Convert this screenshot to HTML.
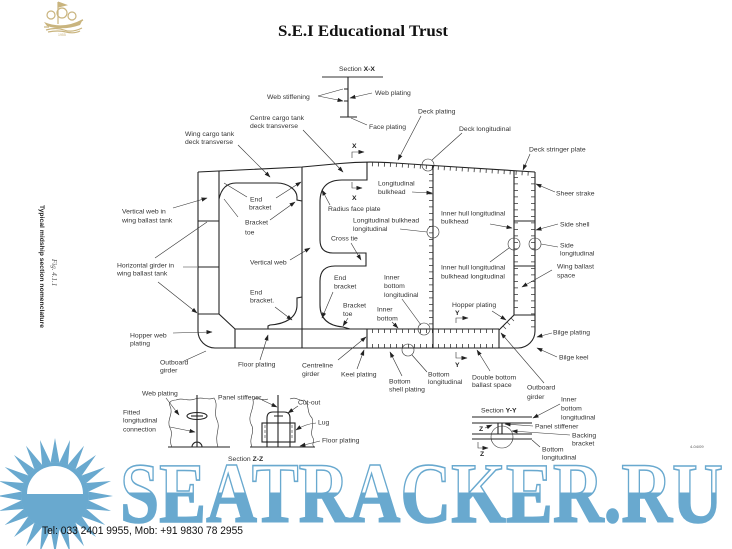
<!DOCTYPE html>
<html><head><meta charset="utf-8"><style>
html,body{margin:0;padding:0;background:#fff;}
svg{display:block;}
.t{font-family:"Liberation Sans",sans-serif;font-size:6.8px;fill:#333;}
.b{font-weight:bold;fill:#222;}
.h{fill:none;stroke:#222;stroke-width:1.1;}
.l{fill:none;stroke:#333;stroke-width:0.6;}
.la{fill:none;stroke:#333;stroke-width:0.6;marker-end:url(#a);}
.tk{fill:none;stroke:#333;stroke-width:4;stroke-dasharray:0.8 5.7;}
</style></head><body>
<svg width="732" height="549" viewBox="0 0 732 549" xmlns="http://www.w3.org/2000/svg">
<defs>
<marker id="a" markerWidth="6" markerHeight="5" refX="5.5" refY="2.5" orient="auto" markerUnits="userSpaceOnUse"><path d="M0,0.4 L6,2.5 L0,4.6z" fill="#222"/></marker>
<linearGradient id="wg" x1="0" y1="460" x2="0" y2="525" gradientUnits="userSpaceOnUse"><stop offset="0.5" stop-color="#ffffff"/><stop offset="0.5" stop-color="#69a9cf"/></linearGradient>
<polygon id="ray" points="88.7,491.6 113,496 88.7,500.4" fill="#69a9cf"/>
</defs>
<rect width="732" height="549" fill="#fff"/>

<!-- logo -->
<g fill="none" stroke="#c9b47e" stroke-width="1.2">
<path d="M58,2 L58,24"/><path d="M58,2 L66,5 L58,7" fill="#c9b47e"/>
<circle cx="51" cy="15" r="4"/><circle cx="62" cy="13" r="5"/><circle cx="72" cy="16" r="4"/>
<path d="M44,27 L49,27"/><path d="M76,24 L83,20"/>
<path d="M46,30 Q56,27 64,30 T82,28"/><path d="M48,32 Q58,30 66,32 T80,31"/>
</g>
<path d="M44,22 Q63,30 83,19 L80,25 Q63,31 47,26 Z" fill="#c9b47e"/>
<text x="58" y="36" font-family="Liberation Sans" font-size="3.5" fill="#c9b47e">1955</text>

<!-- title -->
<text x="278" y="36" font-family="Liberation Serif,serif" font-weight="bold" font-size="16" textLength="170" lengthAdjust="spacingAndGlyphs" fill="#111">S.E.I Educational Trust</text>

<!-- vertical captions -->
<text class="t b" font-size="7.5" transform="translate(40,205) rotate(90)">Typical midship section nomenclature</text>
<text font-family="Liberation Serif,serif" font-style="italic" font-size="7" fill="#555" transform="translate(52,259) rotate(90)">Fig. 4.1.1</text>

<!-- Section X-X -->
<text class="t" x="339" y="71">Section <tspan class="b">X-X</tspan></text>
<line x1="322" y1="77" x2="383" y2="77" stroke="#999" stroke-width="2"/>
<path class="h" d="M348,77 V117 M340,117 H357 M344,89 H348 M344,101 H348"/>
<text class="t" x="267" y="99">Web stiffening</text>
<path class="la" d="M318,96 L343,89 M318,96 L343,101"/>
<text class="t" x="375" y="95">Web plating</text>
<path class="la" d="M372,93 L350,98"/>
<text class="t" x="369" y="129">Face plating</text>
<path class="l" d="M367,125 L351,118"/>

<!-- hull -->
<path class="h" d="M198,172 L198,331 A17,17 0 0 0 215,348 L518,348 A17,17 0 0 0 535,331 L535,172"/>
<path class="h" d="M198,172 L302,167 L340,163.5 Q367,161 395,163 L433,165.5 L535,172"/>
<path class="h" d="M219,171 L219,314 L235,329 L499,329 M198,314 H219 M198,221 H219 M198,267 H219 M235,329 V348 M302,167 V348 M367,329 V348 M433,165.5 V348 M514,171 V315 L499,330 V348 M514,315 H535 M514,221 H535 M514,266 H535"/>
<!-- webs -->
<path class="h" d="M367,162 L367,180 L342,180 Q320,180 320,202 L320,240 Q320,253 333,253 L366,253 L366,266 L335,266 Q320,266 320,281 L320,305 Q320,325 343,327 L350,329"/>
<path class="h" d="M219,199 C221,190 226,183 236,183 L277,183 C288,183 297,190 297,197 L297,200 L302,201"/>
<path class="h" d="M302,297 L297,298 L297,305 C297,318 285,324 270,325 L268,326 L268,329"/>
<!-- ticks -->
<path class="tk" d="M372,164.3 L395,165 L433,167.5 L531,173.8" style="stroke-dasharray:0.8 5.2"/>
<path class="tk" d="M431,174 V326"/>
<path class="tk" d="M516,177 V312"/>
<path class="tk" d="M533,177 V328"/>
<path class="tk" d="M372,331 H497" style="stroke-dasharray:0.8 5.2"/>
<path class="tk" d="M372,346 H497" style="stroke-dasharray:0.8 5.2"/>
<path class="l" d="M511,318 l3,3 M507,322 l3,3 M503,326 l3,3"/>
<!-- circles -->
<g class="l"><circle cx="428" cy="165" r="6"/><circle cx="433" cy="232" r="6"/><circle cx="514" cy="244" r="6"/><circle cx="535" cy="244" r="6"/><circle cx="424" cy="329" r="6"/><circle cx="408" cy="350" r="6"/></g>

<!-- X / Y markers -->
<path class="la" d="M352,158 V152 H364"/><text class="t b" x="352" y="148">X</text>
<path class="la" d="M352,182 V188 H362"/><text class="t b" x="352" y="200">X</text>
<path class="la" d="M456,323 V318 H468"/><text class="t b" x="455" y="315">Y</text>
<path class="la" d="M456,352 V358 H467"/><text class="t b" x="455" y="367">Y</text>

<!-- deck labels -->
<text class="t" x="418" y="113.5">Deck plating</text><path class="la" d="M421,116 L398,160"/>
<text class="t" x="459" y="131">Deck longitudinal</text><path class="l" d="M462,133 L432,160"/>
<text class="t" x="250" y="120">Centre cargo tank</text><text class="t" x="250" y="128">deck transverse</text>
<path class="la" d="M303,130 L343,172"/>
<text class="t" x="185" y="136">Wing cargo tank</text><text class="t" x="185" y="144">deck transverse</text>
<path class="la" d="M238,145 L270,177"/>

<!-- centre labels -->
<text class="t" x="378" y="185.5">Longitudinal</text><text class="t" x="378" y="194">bulkhead</text><path class="la" d="M412,192 L432,193"/>
<text class="t" x="328" y="211">Radius face plate</text><path class="la" d="M330,205 L322,190"/>
<text class="t" x="353" y="222.5">Longitudinal bulkhead</text><text class="t" x="353" y="231">longitudinal</text><path class="l" d="M400,229 L427,232"/>
<text class="t" x="331" y="240.5">Cross tie</text><path class="la" d="M351,243 L361,260"/>
<text class="t" x="334" y="280">End</text><text class="t" x="334" y="288.5">bracket</text><path class="la" d="M333,292 L322,318"/>
<text class="t" x="343" y="307.5">Bracket</text><text class="t" x="343" y="316">toe</text><path class="la" d="M348,318 L343,326"/>
<text class="t" x="384" y="279.5">Inner</text><text class="t" x="384" y="288">bottom</text><text class="t" x="384" y="297">longitudinal</text><path class="l" d="M402,299 L421,325"/>
<text class="t" x="377" y="311.5">Inner</text><text class="t" x="377" y="320.5">bottom</text><path class="la" d="M392,322 L398,328"/>
<text class="t" x="452" y="307">Hopper plating</text><path class="la" d="M492,311 L506,320"/>

<!-- left labels -->
<text class="t" x="122" y="213.5">Vertical web in</text><text class="t" x="122" y="222.5">wing ballast tank</text><path class="la" d="M173,208 L207,198"/>
<text class="t" x="117" y="267.5">Horizontal girder in</text><text class="t" x="117" y="275.5">wing ballast tank</text>
<path class="la" d="M155,258 L207,222 M183,267 L197,267 M158,282 L197,313"/>
<text class="t" x="250" y="201.5">End</text><text class="t" x="249" y="209.5">bracket</text><path class="la" d="M247,197 L224,183 M276,198 L301,182"/>
<text class="t" x="245" y="224.5">Bracket</text><text class="t" x="245" y="234.5">toe</text><path class="la" d="M238,217 L224,199 M270,220 L295,202"/>
<text class="t" x="250" y="264.5">Vertical web</text><path class="la" d="M290,260 L310,248"/>
<text class="t" x="250" y="294.5">End</text><text class="t" x="250" y="302.5">bracket.</text><path class="la" d="M275,307 L292,320"/>
<text class="t" x="130" y="337.5">Hopper web</text><text class="t" x="130" y="345.5">plating</text><path class="la" d="M173,333 L212,332"/>
<text class="t" x="160" y="364.5">Outboard</text><text class="t" x="160" y="372.5">girder</text><path class="l" d="M184,361 L206,351"/>
<text class="t" x="238" y="366.5">Floor plating</text><path class="la" d="M260,360 L268,335"/>

<!-- bottom labels -->
<text class="t" x="302" y="367.5">Centreline</text><text class="t" x="302" y="376">girder</text><path class="la" d="M338,360 L366,337"/>
<text class="t" x="341" y="376.5">Keel plating</text><path class="la" d="M357,369 L364,350"/>
<text class="t" x="389" y="383.5">Bottom</text><text class="t" x="389" y="391.5">shell plating</text><path class="la" d="M402,376 L390,352"/>
<text class="t" x="428" y="376.5">Bottom</text><text class="t" x="428" y="384">longitudinal</text><path class="l" d="M427,372 L412,355"/>
<text class="t" x="472" y="379.5">Double bottom</text><text class="t" x="472" y="387">ballast space</text><path class="la" d="M490,371 L477,350"/>
<text class="t" x="527" y="389.5">Outboard</text><text class="t" x="527" y="399">girder</text><path class="la" d="M544,383 L501,333"/>
<text class="t" x="553" y="334.5">Bilge plating</text><path class="la" d="M552,333 L537,337"/>
<text class="t" x="559" y="359.5">Bilge keel</text><path class="la" d="M557,357 L537,348"/>

<!-- right labels -->
<text class="t" x="529" y="151.5">Deck stringer plate</text><path class="la" d="M530,154 L523,170"/>
<text class="t" x="556" y="195.5">Sheer strake</text><path class="la" d="M555,192 L536,184"/>
<text class="t" x="560" y="226.5">Side shell</text><path class="la" d="M558,224 L536,230"/>
<text class="t" x="560" y="247.5">Side</text><text class="t" x="560" y="255.5">longitudinal</text><path class="l" d="M558,247 L541,244"/>
<text class="t" x="441" y="215.5">Inner hull longitudinal</text><text class="t" x="441" y="223.5">bulkhead</text><path class="la" d="M490,224 L512,228"/>
<text class="t" x="441" y="269.5">Inner hull longitudinal</text><text class="t" x="441" y="278.5">bulkhead longitudinal</text><path class="l" d="M490,262 L509,248"/>
<text class="t" x="557" y="268.5">Wing ballast</text><text class="t" x="557" y="277.5">space</text><path class="la" d="M552,270 L522,287"/>

<!-- Section Z-Z -->
<g class="h" stroke-width="0.9">
<path d="M168,447 H230 M197,395 V447 M192,447 A5,5 0 0 1 202,447"/>
<ellipse cx="197" cy="416" rx="10" ry="3.5"/><path d="M191,416 H203"/>
<path d="M250,447 H315 M278,395 V447"/>
<path d="M267,447 V418 Q267,412 273,412 L284,412 Q290,412 290,418 V447 M274,416 H283"/>
<rect x="262" y="423" width="33" height="19"/>
</g>
<path d="M265,425 V440 M292,425 V440" stroke="#333" stroke-width="0.6" stroke-dasharray="3 2"/>
<g class="l">
<path d="M172,447 C168,440 174,435 170,428 C166,420 174,414 170,406 C168,402 172,400 176,400 C182,397 188,402 195,399 C202,396 208,401 214,398 C219,405 213,412 217,420 C221,428 214,435 218,447"/>
<path d="M252,447 C248,438 256,432 251,424 C247,416 255,408 253,400 C258,396 262,402 268,399 M290,399 C296,396 300,402 304,400 C310,404 306,412 312,418 C315,426 309,432 313,438 C315,442 311,444 314,447"/>
</g>
<text class="t" x="142" y="395.5">Web plating</text><path class="la" d="M166,398 L179,415"/>
<text class="t" x="123" y="414.5">Fitted</text><text class="t" x="123" y="422.5">longitudinal</text><text class="t" x="123" y="431.5">connection</text><path class="la" d="M170,427 L195,432"/>
<text class="t" x="218" y="399.5">Panel stiffener</text><path class="la" d="M262,400 L277,407"/>
<text class="t" x="298" y="404.5">Cut-out</text><path class="la" d="M298,406 L288,413"/>
<text class="t" x="318" y="424.5">Lug</text><path class="la" d="M316,423 Q305,424 296,430"/>
<text class="t" x="322" y="442.5">Floor plating</text><path class="la" d="M320,441 L300,446"/>
<text class="t" x="228" y="461">Section <tspan class="b">Z-Z</tspan></text>

<!-- Section Y-Y -->
<text class="t" x="481" y="412.5">Section <tspan class="b">Y-Y</tspan></text>
<g class="h" stroke-width="0.9">
<path d="M472,417 H532 M472,423 H532 M472,434 H532 M472,439 H532 M498,423 V434 M502,423 V434"/>
</g>
<circle class="l" cx="502" cy="437" r="11"/>
<text class="t b" x="479" y="431">Z</text><path class="la" d="M485,428 L492,425"/>
<path class="la" d="M478,442 V448 H488"/><text class="t b" x="480" y="456">Z</text>
<text class="t" x="561" y="401.5">Inner</text><text class="t" x="561" y="410.5">bottom</text><text class="t" x="561" y="419.5">longitudinal</text><path class="la" d="M560,404 L533,418"/>
<text class="t" x="535" y="428.5">Panel stiffener</text><path class="la" d="M533,426 L505,424"/>
<text class="t" x="572" y="437.5">Backing</text><text class="t" x="572" y="445.5">bracket</text><path class="la" d="M570,435 L512,431"/>
<text class="t" x="542" y="451.5">Bottom</text><text class="t" x="542" y="459.5">longitudinal</text><path class="l" d="M540,447 L532,440"/>
<text x="690" y="448" font-family="Liberation Sans" font-size="4" fill="#555">4-04/09</text>

<!-- watermark sun -->
<g>
<circle cx="55" cy="496" r="34" fill="#69a9cf"/>
<use href="#ray" transform="rotate(0 55 496)"/><use href="#ray" transform="rotate(15 55 496)"/><use href="#ray" transform="rotate(30 55 496)"/><use href="#ray" transform="rotate(45 55 496)"/>
<use href="#ray" transform="rotate(60 55 496)"/><use href="#ray" transform="rotate(75 55 496)"/><use href="#ray" transform="rotate(90 55 496)"/><use href="#ray" transform="rotate(105 55 496)"/>
<use href="#ray" transform="rotate(120 55 496)"/><use href="#ray" transform="rotate(135 55 496)"/><use href="#ray" transform="rotate(150 55 496)"/><use href="#ray" transform="rotate(165 55 496)"/>
<use href="#ray" transform="rotate(180 55 496)"/><use href="#ray" transform="rotate(195 55 496)"/><use href="#ray" transform="rotate(210 55 496)"/><use href="#ray" transform="rotate(225 55 496)"/>
<use href="#ray" transform="rotate(240 55 496)"/><use href="#ray" transform="rotate(255 55 496)"/><use href="#ray" transform="rotate(270 55 496)"/><use href="#ray" transform="rotate(285 55 496)"/>
<use href="#ray" transform="rotate(300 55 496)"/><use href="#ray" transform="rotate(315 55 496)"/><use href="#ray" transform="rotate(330 55 496)"/><use href="#ray" transform="rotate(345 55 496)"/>
<path d="M27,494 A28,28 0 0 1 83,494 Z" fill="#fff"/>
</g>
<!-- watermark text -->
<text x="120" y="522" font-family="Liberation Serif,serif" font-weight="bold" font-size="86" textLength="603" lengthAdjust="spacingAndGlyphs" fill="url(#wg)" stroke="#69a9cf" stroke-width="1.6">SEATRACKER.RU</text>

<text x="42" y="534" font-family="Liberation Sans,sans-serif" font-size="11" textLength="201" lengthAdjust="spacingAndGlyphs" fill="#111">Tel: 033 2401 9955, Mob: +91 9830 78 2955</text>
</svg>
</body></html>
